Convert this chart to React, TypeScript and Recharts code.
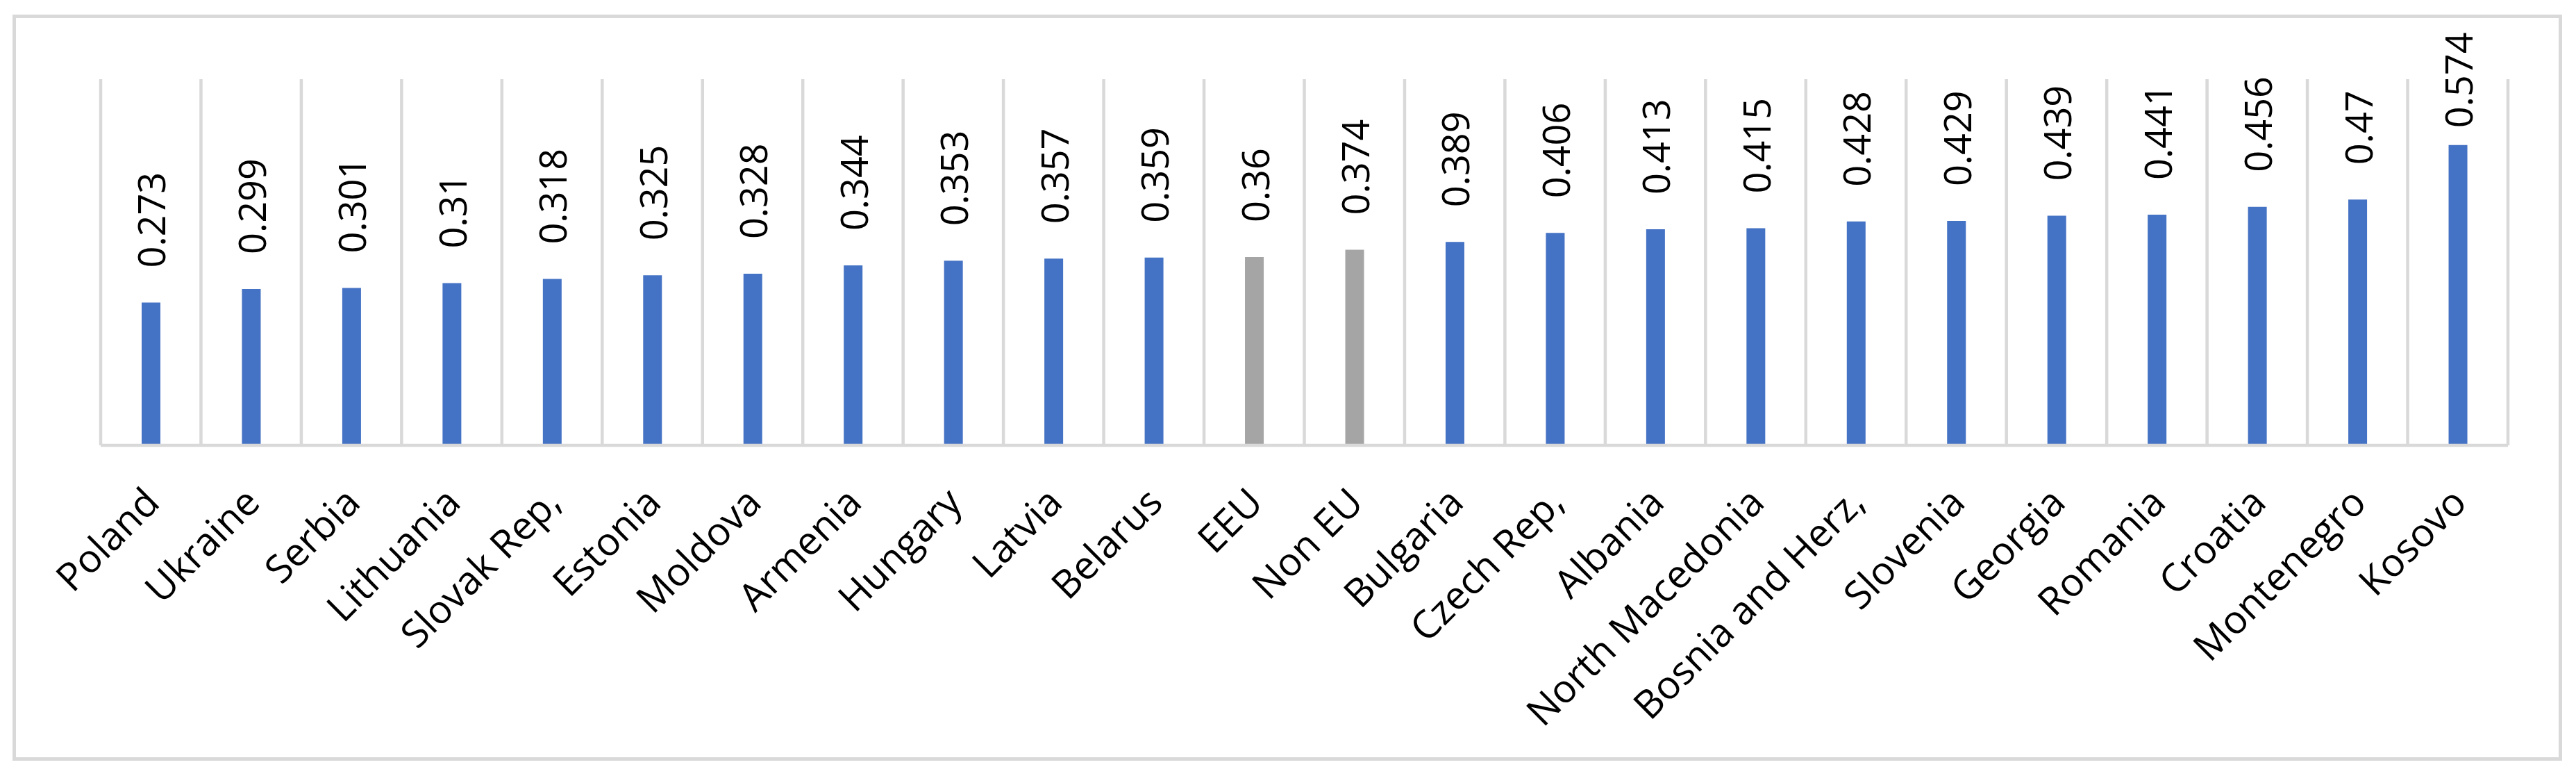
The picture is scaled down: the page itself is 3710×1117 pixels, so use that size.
import React from 'react';
import { BarChart, Bar, XAxis, YAxis, CartesianGrid, Cell, LabelList } from 'recharts';

const categories = [
  'Poland', 'Ukraine', 'Serbia', 'Lithuania', 'Slovak Rep,', 'Estonia', 'Moldova', 'Armenia',
  'Hungary', 'Latvia', 'Belarus', 'EEU', 'Non EU', 'Bulgaria', 'Czech Rep,', 'Albania',
  'North Macedonia', 'Bosnia and Herz,', 'Slovenia', 'Georgia', 'Romania', 'Croatia', 'Montenegro', 'Kosovo',
];
const values = [
  0.273, 0.299, 0.301, 0.31, 0.318, 0.325, 0.328, 0.344,
  0.353, 0.357, 0.359, 0.36, 0.374, 0.389, 0.406, 0.413,
  0.415, 0.428, 0.429, 0.439, 0.441, 0.456, 0.47, 0.574,
];
const aggregateGroups = ['EEU', 'Non EU'];

const data = categories.map((name, i) => ({ name, value: values[i] }));

const W = 3710;
const H = 1117;
const BLUE = '#4472C4';
const GRAY = '#A5A5A5';
const GRID = '#D9D9D9';
const FONT = '"Open Sans", "Noto Sans", sans-serif';
const VAL_SIZE = 54;
const CAT_SIZE = 56;

const textLen = (s: string) =>
  s.split('').reduce((acc, ch) => acc + (ch === '.' ? 0.27 : 0.572), 0) * VAL_SIZE;

const ValueLabel = (props: any) => {
  const { x, y, width, value } = props;
  const cx = x + width / 2;
  const s = String(value);
  let start = y - 50;
  const minTop = 46;
  if (start - textLen(s) < minTop) start = minTop + textLen(s);
  return (
    <text
      x={cx}
      y={start}
      transform={`rotate(-90, ${cx}, ${start})`}
      textAnchor="start"
      dominantBaseline="central"
      fontFamily={FONT}
      fontSize={VAL_SIZE}
      fill="#000"
    >
      {s}
    </text>
  );
};

const CategoryTick = (props: any) => {
  const { x, y, payload } = props;
  const ty = y + 70;
  return (
    <text
      x={x}
      y={ty}
      transform={`rotate(-45, ${x}, ${ty})`}
      textAnchor="end"
      dominantBaseline="central"
      fontFamily={FONT}
      fontSize={CAT_SIZE}
      fill="#000"
    >
      {payload.value}
    </text>
  );
};

export default function App() {
  return (
    <div style={{ position: 'absolute', left: 0, top: 0, width: W, height: H, background: '#fff' }}>
      <div
        style={{
          position: 'absolute',
          left: 18,
          top: 21,
          width: 3672,
          height: 1074,
          boxSizing: 'border-box',
          border: `5px solid ${GRID}`,
        }}
      />
      <div style={{ position: 'absolute', left: 0, top: 0 }}>
        <BarChart
          width={W}
          height={H}
          data={data}
          margin={{ top: 114, right: 98, left: 145, bottom: 76 }}
          barSize={27}
        >
          <CartesianGrid
            horizontal={false}
            vertical={true}
            stroke={GRID}
            strokeWidth={4.5}
            verticalCoordinatesGenerator={(p: any) => {
              const off = p.offset;
              const n = categories.length;
              return Array.from({ length: n + 1 }, (_, i) => off.left + (i * off.width) / n);
            }}
          />
          <XAxis
            dataKey="name"
            interval={0}
            height={400}
            tickSize={0}
            tickMargin={0}
            tickLine={false}
            axisLine={{ stroke: GRID, strokeWidth: 4.5 }}
            tick={<CategoryTick />}
          />
          <YAxis hide domain={[0, 0.7]} />
          <Bar dataKey="value" isAnimationActive={false}>
            {data.map((d) => (
              <Cell key={d.name} fill={aggregateGroups.includes(d.name) ? GRAY : BLUE} />
            ))}
            <LabelList dataKey="value" content={<ValueLabel />} />
          </Bar>
        </BarChart>
      </div>
    </div>
  );
}
